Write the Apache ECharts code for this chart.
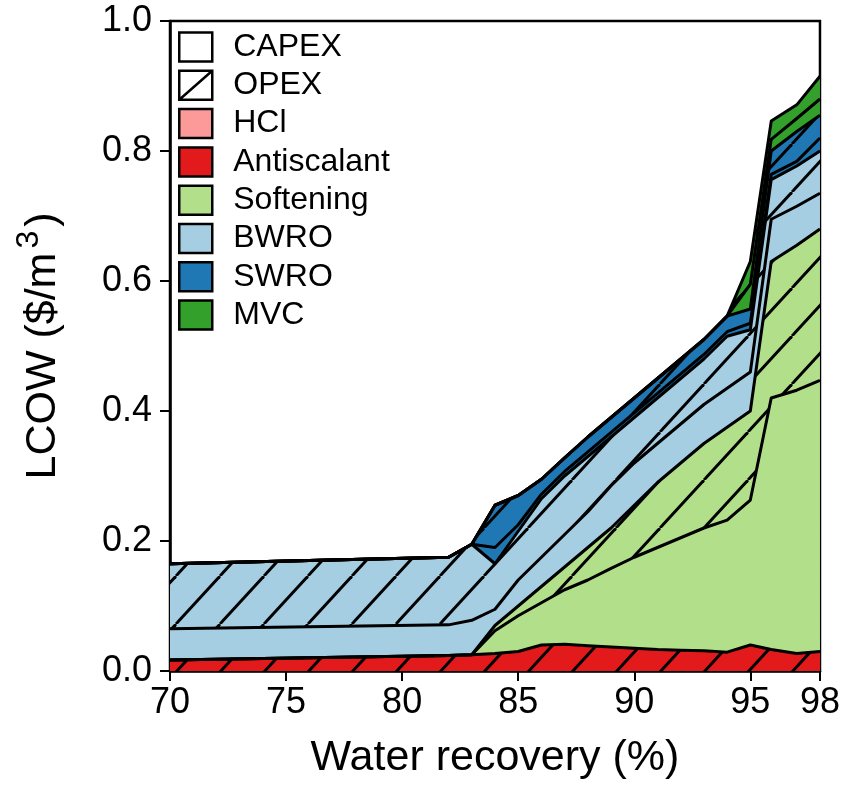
<!DOCTYPE html>
<html>
<head>
<meta charset="utf-8">
<script src="https://cdn.jsdelivr.net/npm/echarts@6/dist/echarts.min.js"></script>
<style>
  html, body { margin: 0; padding: 0; background: #fff; }
  #chart { width: 843px; height: 785px; }
</style>
</head>
<body>
<div id="chart"></div>
<script>
// water recovery (%) of each design point
const recovery = [70, 82, 83, 84, 85, 86, 87, 88, 89, 90, 91, 92, 93, 94, 95, 95.9, 97, 98]

// layer thickness in $/m3, bottom to top
const antiscalantOpex = [0.017, 0.024, 0.025, 0.027, 0.030, 0.040, 0.041, 0.039, 0.037, 0.035, 0.033, 0.032, 0.031, 0.029, 0.040, 0.033, 0.027, 0.030]
const softeningCapex = [0, 0, 0, 0.035, 0.055, 0.065, 0.084, 0.101, 0.121, 0.140, 0.157, 0.173, 0.189, 0.203, 0.223, 0.387, 0.405, 0.417]
const softeningOpex = [0, 0, 0, 0.008, 0.015, 0.025, 0.035, 0.050, 0.062, 0.080, 0.100, 0.115, 0.130, 0.143, 0.137, 0.210, 0.223, 0.233]
const bwroCapex = [0.048, 0.047, 0.053, 0.025, 0.040, 0.045, 0.050, 0.055, 0.065, 0.065, 0.060, 0.060, 0.060, 0.060, 0.060, 0.065, 0.060, 0.055]
const bwroOpex = [0.100, 0.104, 0.117, 0.070, 0.075, 0.090, 0.090, 0.085, 0.075, 0.070, 0.070, 0.070, 0.070, 0.080, 0.065, 0.061, 0.062, 0.065]
const swroCapex = [0, 0, 0, 0.025, 0.010, 0.007, 0.007, 0.007, 0.007, 0.007, 0.007, 0.007, 0.007, 0.007, 0.010, 0.008, 0.007, 0.020]
const swroOpex = [0, 0, 0, 0.065, 0.045, 0.023, 0.021, 0.023, 0.023, 0.023, 0.023, 0.023, 0.023, 0.024, 0.022, 0.036, 0.046, 0.035]
const mvcCapex = [0, 0, 0, 0, 0, 0, 0, 0, 0, 0, 0, 0, 0, 0, 0.038, 0.018, 0.020, 0.025]
const mvcOpex = [0, 0, 0, 0, 0, 0, 0, 0, 0, 0, 0, 0, 0, 0, 0.035, 0.028, 0.021, 0.035]

const xTicks = [70, 75, 80, 85, 90, 95, 98]
const legendNames = ['CAPEX', 'OPEX', 'HCl', 'Antiscalant', 'Softening', 'BWRO', 'SWRO', 'MVC']

const colors = {
  CAPEX: '#ffffff',
  OPEX: '#ffffff',
  HCl: '#fb9a99',
  Antiscalant: '#e31a1c',
  Softening: '#b2df8a',
  BWRO: '#a6cee3',
  SWRO: '#1f78b4',
  MVC: '#33a02c'
}

const FONT = 'Liberation Sans, Arial, Helvetica, sans-serif'

// "/" hatch used for the OPEX layers
const hatch = color => {
  const w = 44
  const h = 48
  const c = document.createElement('canvas')
  c.width = w
  c.height = h
  const ctx = c.getContext('2d')
  ctx.fillStyle = color
  ctx.fillRect(0, 0, w, h)
  ctx.strokeStyle = '#000'
  ctx.lineWidth = 2.9
  for (const dx of [-w, 0, w]) {
    ctx.beginPath()
    ctx.moveTo(dx, h)
    ctx.lineTo(dx + w, 0)
    ctx.stroke()
  }
  return { image: c, repeat: 'repeat' }
}

const layers = [
  { name: 'Antiscalant OPEX', values: antiscalantOpex, color: colors.Antiscalant, opex: true },
  { name: 'Softening CAPEX', values: softeningCapex, color: colors.Softening, opex: false },
  { name: 'Softening OPEX', values: softeningOpex, color: colors.Softening, opex: true },
  { name: 'BWRO CAPEX', values: bwroCapex, color: colors.BWRO, opex: false },
  { name: 'BWRO OPEX', values: bwroOpex, color: colors.BWRO, opex: true },
  { name: 'SWRO CAPEX', values: swroCapex, color: colors.SWRO, opex: false },
  { name: 'SWRO OPEX', values: swroOpex, color: colors.SWRO, opex: true },
  { name: 'MVC CAPEX', values: mvcCapex, color: colors.MVC, opex: false },
  { name: 'MVC OPEX', values: mvcOpex, color: colors.MVC, opex: true }
]

// value first so that the stack is done on y, not on x
const toPairs = values => recovery.map((x, i) => [values[i], x])

const fillSeries = layers.map(layer => ({
  type: 'line',
  name: layer.name,
  stack: 'fill',
  data: toPairs(layer.values),
  encode: { x: 1, y: 0 },
  showSymbol: false,
  silent: true,
  z: 2,
  lineStyle: { width: 0 },
  itemStyle: { color: layer.color },
  areaStyle: { color: layer.opex ? hatch(layer.color) : layer.color, opacity: 1 }
}))

const edgeSeries = layers.map(layer => ({
  type: 'line',
  name: layer.name + ' edge',
  stack: 'edge',
  data: toPairs(layer.values),
  encode: { x: 1, y: 0 },
  showSymbol: false,
  silent: true,
  z: 3,
  lineStyle: { color: '#000', width: 3, join: 'round' }
}))

// empty series, only there for the legend
const legendSeries = legendNames.map(name => ({
  type: 'bar',
  name: name,
  data: [],
  itemStyle: { color: colors[name] }
}))

const chart = echarts.init(document.getElementById('chart'))

chart.setOption({
  animation: false,
  backgroundColor: '#fff',
  textStyle: { fontFamily: FONT },
  grid: {
    left: 170,
    right: 21,
    top: 21,
    bottom: 112,
    show: true,
    borderColor: '#000',
    borderWidth: 2.5,
    backgroundColor: 'transparent'
  },
  legend: {
    orient: 'vertical',
    left: 173,
    top: 26,
    itemWidth: 33,
    itemHeight: 29,
    itemGap: 6.3,
    selectedMode: false,
    icon: 'rect',
    itemStyle: { borderColor: '#000', borderWidth: 2.5 },
    textStyle: { fontSize: 32, color: '#000', fontFamily: FONT, padding: [0, 0, 0, 16] },
    data: legendNames.map(name => ({
      name: name,
      icon: name === 'OPEX' ? 'path://M0,0L33,0L33,29L0,29Z M0,29L33,0' : 'rect',
      itemStyle: { color: colors[name], borderColor: '#000', borderWidth: 2.5 }
    }))
  },
  xAxis: {
    type: 'value',
    min: 70,
    max: 98,
    name: 'Water recovery (%)',
    nameLocation: 'middle',
    nameGap: 66,
    nameTextStyle: { fontSize: 43, color: '#000', fontFamily: FONT },
    axisLine: { lineStyle: { color: '#000', width: 2.5 } },
    axisTick: { show: true, length: 10, lineStyle: { color: '#000', width: 2 }, customValues: xTicks },
    axisLabel: { fontSize: 36, color: '#000', margin: 14, fontFamily: FONT, customValues: xTicks },
    splitLine: { show: false }
  },
  yAxis: {
    type: 'value',
    min: 0,
    max: 1,
    interval: 0.2,
    name: 'LCOW ($/m{sup|3})',
    nameLocation: 'middle',
    nameGap: 97,
    nameTextStyle: {
      fontSize: 43,
      color: '#000',
      fontFamily: FONT,
      rich: {
        sup: { fontSize: 32, color: '#000', fontFamily: FONT, verticalAlign: 'bottom', padding: [0, 4, 28, 4] }
      }
    },
    axisLine: { show: true, lineStyle: { color: '#000', width: 2.5 } },
    axisTick: { show: true, length: 10, lineStyle: { color: '#000', width: 2 } },
    axisLabel: { fontSize: 36, color: '#000', margin: 18, fontFamily: FONT, formatter: v => v.toFixed(1) },
    splitLine: { show: false }
  },
  series: [...fillSeries, ...edgeSeries, ...legendSeries]
})
</script>
</body>
</html>
